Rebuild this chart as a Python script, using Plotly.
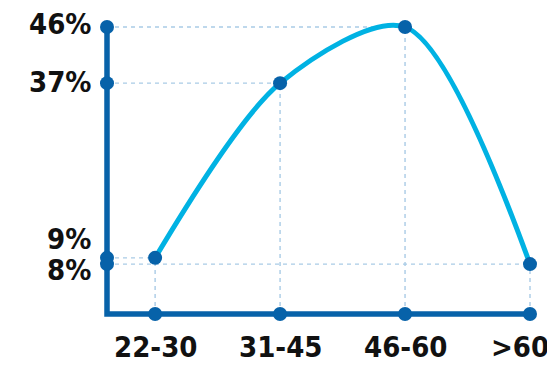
import plotly.graph_objects as go

categories = ["22-30", "31-45", "46-60", ">60"]
values = [9, 37, 46, 8]
y_tick_labels = ["9%", "37%", "46%", "8%"]

DARK = "#0762a9"
LIGHT = "#00b2e3"
GRID = "#a9cbe6"
FONT = "DejaVu Sans Condensed"

xi = list(range(len(categories)))
x0 = -0.385  # position of the vertical axis line
pad_x = 0.04
pad_y = 0.8

fig = go.Figure()

# dashed guide lines from the axes to each point
gx, gy = [], []
for i, v in zip(xi, values):
    gx += [x0, i, None, i, i, None]
    gy += [v, v, None, 0, v, None]
fig.add_trace(go.Scatter(x=gx, y=gy, mode="lines",
                         line=dict(color=GRID, width=1.4, dash="4px,4px"),
                         hoverinfo="skip", cliponaxis=False))

# axis lines
fig.add_trace(go.Scatter(x=[x0, x0, xi[-1]], y=[max(values), 0, 0], mode="lines",
                         line=dict(color=DARK, width=5.5), hoverinfo="skip",
                         cliponaxis=False))

# curve
fig.add_trace(go.Scatter(x=xi, y=values, mode="lines",
                         line=dict(color=LIGHT, width=5, shape="spline", smoothing=0.85),
                         cliponaxis=False))

# markers on axes
fig.add_trace(go.Scatter(x=[x0] * len(values) + xi, y=values + [0] * len(xi),
                         mode="markers", marker=dict(color=DARK, size=14),
                         cliponaxis=False, hoverinfo="skip"))
# data markers
fig.add_trace(go.Scatter(x=xi, y=values, mode="markers",
                         marker=dict(color=DARK, size=14), cliponaxis=False))

annotations = []
y_shift = {9: 19, 8: -6, 37: 1, 46: 3}
for v, lab in zip(values, y_tick_labels):
    annotations.append(dict(x=x0, xref="x", y=v, yref="y", text="<b>%s</b>" % lab,
                            showarrow=False, xanchor="right", yanchor="middle",
                            xshift=-14, yshift=y_shift.get(v, 0),
                            font=dict(family=FONT, size=29, color="#111111")))
for i, c in zip(xi, categories):
    annotations.append(dict(x=i, xref="x", y=0, yref="y", text="<b>%s</b>" % c,
                            showarrow=False, xanchor="center", yanchor="top",
                            yshift=-14, xshift=-10 if i == xi[-1] else 0,
                            font=dict(family=FONT, size=29, color="#111111")))

fig.update_layout(
    width=547, height=359,
    margin=dict(l=94, r=20, t=14, b=48),
    paper_bgcolor="white", plot_bgcolor="white",
    showlegend=False,
    xaxis=dict(range=[x0 - pad_x, xi[-1] + pad_x], visible=False),
    yaxis=dict(range=[-pad_y, max(values) + pad_y], visible=False),
    annotations=annotations,
)
fig.write_html("out.html")
